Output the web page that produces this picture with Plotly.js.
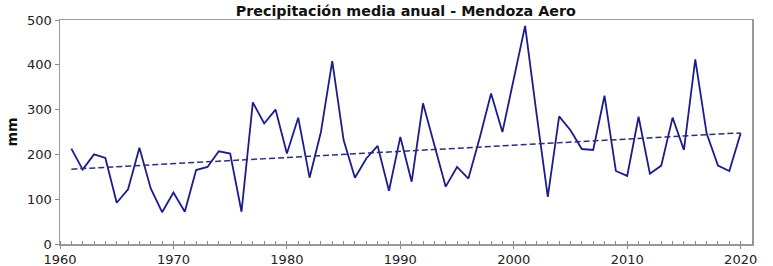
<!DOCTYPE html>
<html>
<head>
<meta charset="utf-8">
<script src="https://cdn.plot.ly/plotly-3.0.1.min.js"></script>
<style>html,body{margin:0;padding:0;background:#fff;}#chart{width:773px;height:266px;}</style>
</head>
<body>
<div id="chart"></div>
<script>
const years = [1961,1962,1963,1964,1965,1966,1967,1968,1969,1970,
               1971,1972,1973,1974,1975,1976,1977,1978,1979,1980,
               1981,1982,1983,1984,1985,1986,1987,1988,1989,1990,
               1991,1992,1993,1994,1995,1996,1997,1998,1999,2000,
               2001,2002,2003,2004,2005,2006,2007,2008,2009,2010,
               2011,2012,2013,2014,2015,2016,2017,2018,2019,2020];
const precip = [213,166,200,192,92,122,215,124,71,115,
                72,165,172,207,202,72,316,269,300,202,
                282,148,250,408,232,148,191,219,119,239,
                139,314,221,128,172,146,237,336,250,370,
                487,292,105,285,254,212,210,331,163,152,
                284,157,175,282,210,412,247,175,163,247];
const trendYears = [1961, 2020];
const trendValues = [167, 248];
const yTicks = [0,100,200,300,400,500];
const xTicks = [1960,1970,1980,1990,2000,2010,2020];
const titleText = 'Precipitación media anual - Mendoza Aero';
const yTitle = 'mm';

const traces = [
  {x: years, y: precip, type: 'scatter', mode: 'lines',
   line: {color: '#1c1c8e', width: 1.8}, hoverinfo: 'x+y'},
  {x: trendYears, y: trendValues, type: 'scatter', mode: 'lines',
   line: {color: '#2e2e78', width: 1.5, dash: '6px,3px'}}
];
const tickFont = {family: 'DejaVu Sans', size: 13, color: '#222'};
const layout = {
  width: 773, height: 266,
  margin: {l: 60, r: 21, t: 20, b: 22, pad: 0},
  paper_bgcolor: '#fff', plot_bgcolor: '#fff',
  showlegend: false,
  title: {text: '<b>' + titleText + '</b>', font: {family: 'DejaVu Sans', size: 14.3, color: '#111'},
          x: 0.525, xanchor: 'center', xref: 'container', y: 0.96, yanchor: 'middle', yref: 'container'},
  xaxis: {range: [1960, 2021], tickvals: xTicks, ticktext: xTicks.map(String),
          ticks: 'outside', ticklen: 3, tickcolor: '#888', tickfont: tickFont,
          showgrid: false, zeroline: false, showline: true, linecolor: '#999', linewidth: 1.5, mirror: true,
          minor: {dtick: 1, tick0: 1960, ticks: 'inside', ticklen: 3, tickcolor: '#888', showgrid: false}},
  yaxis: {range: [0, 500], tickvals: yTicks, ticktext: yTicks.map(String),
          ticks: 'outside', ticklen: 4, tickcolor: '#888', tickfont: tickFont,
          showgrid: false, zeroline: false, showline: true, linecolor: '#999', linewidth: 1.5, mirror: true,
          title: {text: '<b>' + yTitle + '</b>', font: {family: 'DejaVu Sans', size: 14, color: '#111'}, standoff: 6}}
};
Plotly.newPlot('chart', traces, layout, {displayModeBar: false, staticPlot: true});
</script>
</body>
</html>
